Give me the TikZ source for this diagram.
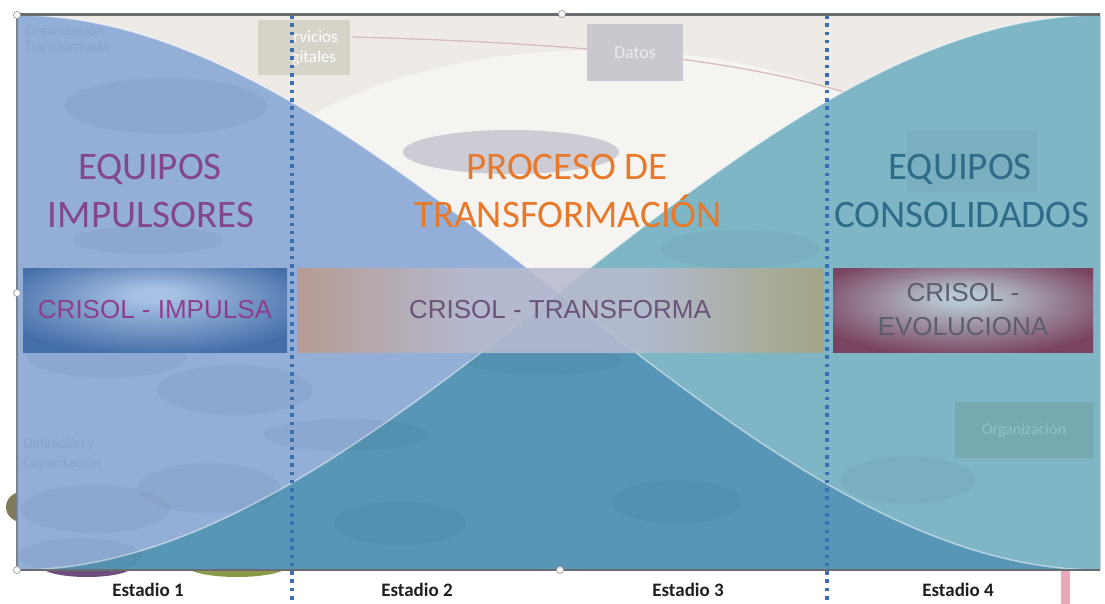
\documentclass[tikz,border=0pt]{standalone}
\usepackage{fontspec}
\setmainfont{Carlito}
\newfontfamily\arialfont{Liberation Sans}

% palette
\definecolor{paper}{HTML}{EEEBE7}
\definecolor{bluearea}{HTML}{93AFD8}
\definecolor{tealarea}{HTML}{7EB6C6}
\definecolor{overlaparea}{HTML}{5896B7}
\definecolor{dotblue}{HTML}{3C6FB1}
\definecolor{framegray}{HTML}{686C70}
\definecolor{frameleft}{HTML}{7C828A}
\definecolor{frameright}{HTML}{C9CDD2}
\definecolor{impText}{HTML}{84468C}
\definecolor{traText}{HTML}{E8792B}
\definecolor{conText}{HTML}{2F6C89}
\definecolor{impIn}{HTML}{AAC4E6}
\definecolor{impOut}{HTML}{3B66A3}
\definecolor{evoIn}{HTML}{BFCAD3}
\definecolor{evoOut}{HTML}{7A3451}
\definecolor{trL}{HTML}{BA9A8A}
\definecolor{trM}{HTML}{B9BBCF}
\definecolor{trR}{HTML}{A9A47C}
\definecolor{crisA}{HTML}{8E3F8C}
\definecolor{crisB}{HTML}{6B5379}
\definecolor{crisC}{HTML}{5C5E6E}
\definecolor{olivebit}{HTML}{7F7A5A}
\definecolor{purplebit}{HTML}{6E4E7E}
\definecolor{greenbit}{HTML}{8A9A4A}
\definecolor{pinkbar}{HTML}{E9A9B8}
\definecolor{pinkline}{HTML}{D9BDBD}
\definecolor{servbox}{HTML}{D6D3C8}
\definecolor{datbox}{HTML}{CBC7CE}
\definecolor{dattext}{HTML}{ECEAEE}
\definecolor{gestell}{HTML}{CDCCD5}
\definecolor{orgbox}{HTML}{76AAB0}
\definecolor{orgtext}{HTML}{92C2C8}
\definecolor{ghosttext}{HTML}{88A4CC}

% fills of the three crisol bars
\pgfdeclareradialshading{crisolimp}{\pgfpoint{0bp}{10bp}}{color(0bp)=(impIn); color(4bp)=(impIn); color(31bp)=(impOut); color(50bp)=(impOut)}
\pgfdeclareradialshading{crisolevo}{\pgfpoint{0bp}{8bp}}{color(0bp)=(evoIn); color(4bp)=(evoIn); color(31bp)=(evoOut); color(50bp)=(evoOut)}
\pgfdeclarehorizontalshading{crisoltra}{100bp}{color(0bp)=(trL); color(25bp)=(trL); color(42bp)=(trM); color(58bp)=(trM); color(75bp)=(trR); color(100bp)=(trR)}

\begin{document}
\begin{tikzpicture}[x=1pt,y=-1pt,
  title/.style={font=\fontsize{39}{47}\selectfont, anchor=base, inner sep=0pt},
  crisol/.style={shade, minimum height=84pt, inner sep=0pt, fill opacity=0.88, text opacity=1,
                 font=\arialfont\fontsize{26}{34}\selectfont, align=center},
  stage/.style={font=\bfseries\fontsize{19}{22}\selectfont, text=black!88, anchor=base, inner sep=0pt},
  ghost/.style={fill=black, fill opacity=0.035},
  faint/.style={font=\fontsize{15}{17}\selectfont, anchor=base west, inner sep=0pt, align=left},
  dotline/.style={dotblue, line width=3.6pt, dash pattern=on 3.6pt off 4.7pt},
  handle/.style={circle, fill=white, draw=black!40, line width=0.7pt, minimum size=7pt, inner sep=0pt}]

\useasboundingbox (0,0) rectangle (1105,604);

% pieces of the underlying chart that stick out of the frame
\fill[olivebit] (22,507) ellipse [x radius=16, y radius=15];
\fill[purplebit] (87,566) ellipse [x radius=46, y radius=11];
\fill[greenbit] (237,566) ellipse [x radius=50, y radius=11];
\fill[pinkbar] (1061,570) rectangle (1070,604);

% plotting area
\fill[paper] (17,15) rectangle (1100,570);
\begin{scope}
  \clip (17,15) rectangle (1100,570);
  \fill[white, fill opacity=0.45] (600,250) ellipse [x radius=390, y radius=200];
  \draw[pinkline, line width=1.3pt] (352,37) .. controls (650,45) and (900,70) .. (1010,180);
\end{scope}

% faded boxes of the underlying chart (top band)
\fill[servbox] (258,20) rectangle (350,75);
\begin{scope}
  \clip (293,15) rectangle (360,80);
  \node[font=\fontsize{17}{20}\selectfont, text=white, align=left, anchor=west, inner sep=0pt] (serv) at (277,48) {Servicios\\Digitales};
\end{scope}
\node[fill=datbox, minimum width=96pt, minimum height=57pt, inner sep=0pt,
      text=dattext, font=\fontsize{18}{20}\selectfont] (datos) at (635,53) {Datos};
\fill[gestell] (511,152) ellipse [x radius=108, y radius=22];

% the two curves and their overlap
\path[fill=bluearea] (17,15) .. controls (390,15) and (727,570) .. (1100,570) -- (17,570) -- cycle;
\path[fill=tealarea] (17,570) .. controls (390,570) and (727,15) .. (1100,15) -- (1100,570) -- cycle;
\begin{scope}
  \clip (17,15) .. controls (390,15) and (727,570) .. (1100,570) -- (17,570) -- cycle;
  \fill[overlaparea] (17,570) .. controls (390,570) and (727,15) .. (1100,15) -- (1100,570) -- cycle;
\end{scope}
\draw[white, line width=1.5pt, opacity=0.5] (17,15) .. controls (390,15) and (727,570) .. (1100,570);
\draw[white, line width=1.5pt, opacity=0.5] (17,570) .. controls (390,570) and (727,15) .. (1100,15);

% faded ellipses and boxes of the underlying chart
\begin{scope}
  \clip (17,15) rectangle (1100,570);
  \fill[ghost] (166,106) ellipse [x radius=101, y radius=28];
  \fill[ghost] (148,240) ellipse [x radius=75, y radius=14];
  \fill[ghost] (107,356) ellipse [x radius=80, y radius=22];
  \fill[ghost] (235,390) ellipse [x radius=78, y radius=25];
  \fill[ghost] (346,435) ellipse [x radius=83, y radius=16];
  \fill[ghost] (209,488) ellipse [x radius=71, y radius=25];
  \fill[ghost] (95,509) ellipse [x radius=75, y radius=24];
  \fill[ghost] (80,556) ellipse [x radius=62, y radius=18];
  \fill[ghost] (400,523) ellipse [x radius=66, y radius=22];
  \fill[ghost] (545,361) ellipse [x radius=78, y radius=14];
  \fill[ghost] (677,502) ellipse [x radius=65, y radius=22];
  \fill[ghost] (740,249) ellipse [x radius=80, y radius=19];
  \fill[ghost] (908,480) ellipse [x radius=68, y radius=24];
  \fill[ghost] (907,130) rectangle (1037,192);
\end{scope}
\node[fill=orgbox, minimum width=139pt, minimum height=56pt, inner sep=0pt,
      text=orgtext, font=\fontsize{16}{18}\selectfont] (orga) at (1024,430) {Organización};
\node[faint, text=ghosttext] (orgT) at (25,52) {Organización\\[-1pt]Transformada};
\node[faint, text=ghosttext] (defc) at (23,467) {Definición y\\[2pt]Capacitación};

% stage separators
\coordinate (sepAtop) at (292,15);
\coordinate (sepAbot) at (292,604);
\coordinate (sepBtop) at (827,15);
\coordinate (sepBbot) at (827,604);
\draw[dotline] (sepAtop) -- (sepAbot);
\draw[dotline] (sepBtop) -- (sepBbot);

% headings
\node[title, text=impText] (impA) at (150,180) {EQUIPOS};
\node[title, text=impText] (impB) at (151,227) {IMPULSORES};
\node[title, text=traText] (traA) at (567,180) {PROCESO DE};
\node[title, text=traText] (traB) at (568,227) {TRANSFORMACIÓN};
\node[title, text=conText] (conA) at (960,180) {EQUIPOS};
\node[title, text=conText] (conB) at (962,227) {CONSOLIDADOS};

% crisol bars
\node[crisol, shading=crisolimp, minimum width=264pt, text=crisA] (crisImp) at (155,310) {CRISOL - IMPULSA};
\node[crisol, shading=crisoltra, minimum width=526pt, text=crisB] (crisTra) at (560,310) {CRISOL - TRANSFORMA};
\node[crisol, shading=crisolevo, minimum width=260pt, text=crisC] (crisEvo) at (963,310) {CRISOL -\\EVOLUCIONA};

% frame of the plotting area
\draw[frameleft, line width=1.5pt] (17,15) -- (17,570);
\draw[frameright, line width=1pt] (1100,15) -- (1100,570);
\draw[framegray, line width=3pt] (17,15) -- (1100,15);
\draw[framegray, line width=2.2pt] (17,570) -- (1100,570);
\node[handle] (h1) at (17,15) {};
\node[handle] (h2) at (562,14) {};
\node[handle] (h3) at (17,293) {};
\node[handle] (h4) at (17,570) {};
\node[handle] (h5) at (560,570) {};

% stage labels
\node[stage] (e1) at (148,596) {Estadio 1};
\node[stage] (e2) at (417,596) {Estadio 2};
\node[stage] (e3) at (688,596) {Estadio 3};
\node[stage] (e4) at (958,596) {Estadio 4};
\end{tikzpicture}
\end{document}
